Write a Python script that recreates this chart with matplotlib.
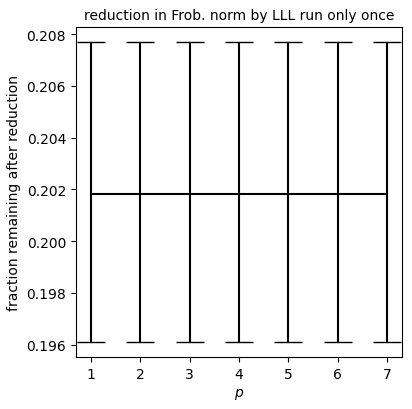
import matplotlib
matplotlib.use("Agg")
import matplotlib.pyplot as plt
import numpy as np

p_values = [1, 2, 3, 4, 5, 6, 7]
mean_fraction = [0.2018, 0.2018, 0.2018, 0.2018, 0.2018, 0.2018, 0.2018]
lower_err = [0.0057, 0.0057, 0.0057, 0.0057, 0.0057, 0.0057, 0.0057]
upper_err = [0.0059, 0.0059, 0.0059, 0.0059, 0.0059, 0.0059, 0.0059]

fig = plt.figure(figsize=(4.12, 4.10), dpi=100)
ax = fig.add_axes([0.184, 0.127, 0.792, 0.805])
ax.errorbar(p_values, mean_fraction, yerr=[lower_err, upper_err],
            color="black", capsize=10, lw=1.5)
ax.set_xticks(p_values)
ax.set_yticks([0.196, 0.198, 0.200, 0.202, 0.204, 0.206, 0.208])
ax.set_title("reduction in Frob. norm by LLL run only once", fontsize=10)
ax.set_xlabel("$p$")
ax.set_ylabel("fraction remaining after reduction")
fig.savefig("out.png", dpi=100)
